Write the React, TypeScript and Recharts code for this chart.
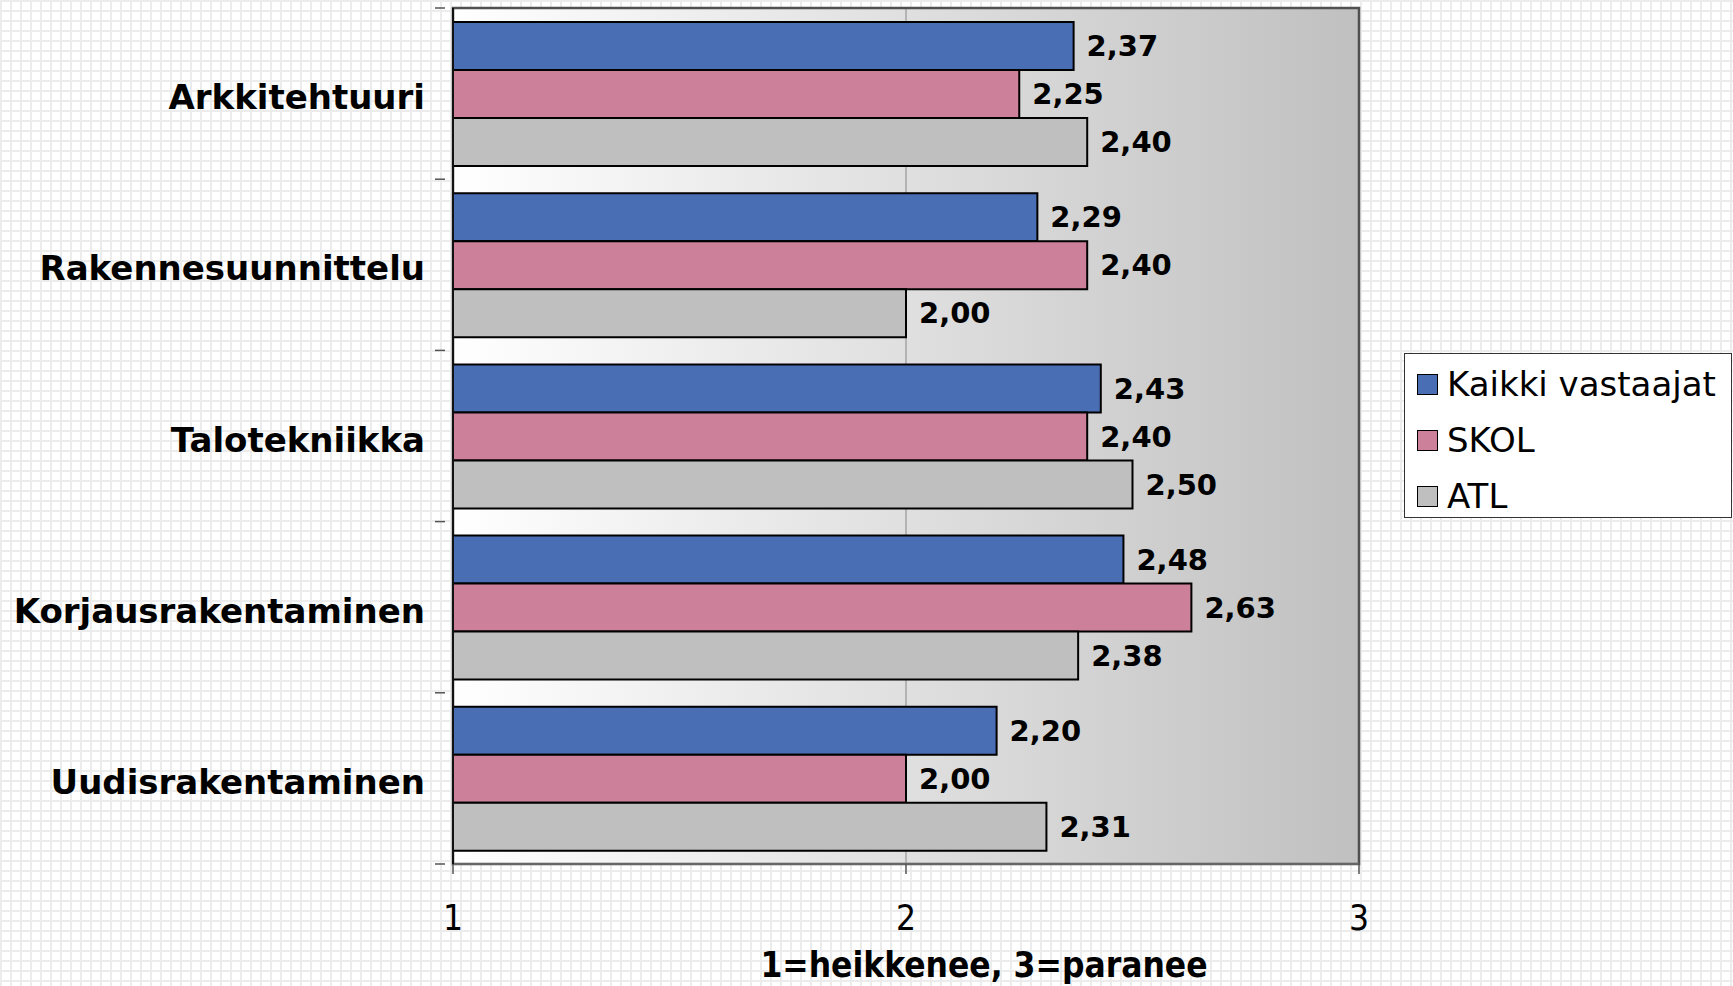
import React from "react";
import {
  Bar,
  BarChart,
  CartesianGrid,
  LabelList,
  ReferenceArea,
  XAxis,
  YAxis,
} from "recharts";

const categories = [
  "Arkkitehtuuri",
  "Rakennesuunnittelu",
  "Talotekniikka",
  "Korjausrakentaminen",
  "Uudisrakentaminen",
];
const kaikki = [2.37, 2.29, 2.43, 2.48, 2.2];
const skol = [2.25, 2.4, 2.4, 2.63, 2.0];
const atl = [2.4, 2.0, 2.5, 2.38, 2.31];
const xTicks = [1, 2, 3];

const series = [
  { key: "kaikki", name: "Kaikki vastaajat", color: "#4a6eb4" },
  { key: "skol", name: "SKOL", color: "#cc8099" },
  { key: "atl", name: "ATL", color: "#bfbfbf" },
];

const data = categories.map((c, i) => ({
  name: c,
  kaikki: kaikki[i],
  skol: skol[i],
  atl: atl[i],
}));

const W = 1733;
const H = 986;
const MARGIN = { top: 8, right: 374, bottom: 0, left: 0 };
const Y_W = 453;
const X_H = 122;
const FONT = "'DejaVu Sans', Verdana, sans-serif";
const COND = "'DejaVu Sans Condensed', 'DejaVu Sans', sans-serif";

const fmt = (v: number) => v.toFixed(2).replace(".", ",");

function CategoryTick(props: any) {
  const { x, y, payload, index } = props;
  const fallback = (H - MARGIN.top - X_H) / categories.length / 2;
  const half = payload.offset || fallback;
  return (
    <g>
      <line x1={x - 10} x2={x} y1={y - half} y2={y - half} stroke="#555" strokeWidth={1.5} />
      {index === categories.length - 1 && (
        <line x1={x - 10} x2={x} y1={y + half} y2={y + half} stroke="#555" strokeWidth={1.5} />
      )}
      <text
        x={x - 20}
        y={y}
        dy="0.46em"
        textAnchor="end"
        fontFamily={FONT}
        fontWeight="bold"
        fontSize={34}
        fill="#000"
      >
        {payload.value}
      </text>
    </g>
  );
}

function LegendBox() {
  return (
    <div
      style={{
        position: "absolute",
        left: 1404,
        top: 353,
        width: 328,
        height: 165,
        boxSizing: "border-box",
        border: "1.5px solid #333",
        background: "#fff",
        paddingTop: 2,
        paddingLeft: 12,
        fontFamily: FONT,
        fontSize: 34,
        color: "#000",
        whiteSpace: "nowrap",
      }}
    >
      {series.map((s) => (
        <div key={s.key} style={{ height: 56, display: "flex", alignItems: "center" }}>
          <span
            style={{
              width: 21,
              height: 21,
              flex: "none",
              boxSizing: "border-box",
              border: "1.5px solid #000",
              background: s.color,
              marginRight: 9,
              display: "inline-block",
            }}
          />
          <span style={{ lineHeight: 1 }}>{s.name}</span>
        </div>
      ))}
    </div>
  );
}

export default function App() {
  return (
    <div
      style={{
        position: "absolute",
        left: 0,
        top: 0,
        width: W,
        height: H,
        backgroundColor: "#fff",
        backgroundImage:
          "linear-gradient(#ececec 2px, transparent 2px), linear-gradient(90deg, #ececec 2px, transparent 2px)",
        backgroundSize: "10px 10px",
      }}
    >
      <BarChart
        width={W}
        height={H}
        data={data}
        layout="vertical"
        margin={MARGIN}
        barCategoryGap={14}
        barGap={0}
      >
        <defs>
          <linearGradient id="plotBg" x1="0" y1="0" x2="1" y2="0">
            <stop offset="0%" stopColor="#ffffff" />
            <stop offset="100%" stopColor="#c0c0c0" />
          </linearGradient>
        </defs>
        <CartesianGrid
          horizontal={false}
          vertical={true}
          stroke="#888"
          strokeWidth={1}
          fill="url(#plotBg)"
          fillOpacity={1}
        />
        <ReferenceArea
          x1={1}
          x2={3}
          fill="none"
          stroke="#505050"
          strokeWidth={2.5}
        />
        <XAxis
          type="number"
          domain={[1, 3]}
          ticks={xTicks}
          height={X_H}
          axisLine={{ stroke: "#666", strokeWidth: 2 }}
          tickLine={{ stroke: "#555", strokeWidth: 1.5 }}
          tickSize={10}
          tickMargin={31}
          tick={{ fontSize: 35, fill: "#000", fontFamily: COND, fontStretch: "condensed" } as any}
          label={{
            content: () => (
              <text
                x={984}
                y={977}
                textAnchor="middle"
                fontFamily={COND}
                fontStretch="condensed"
                fontWeight="bold"
                fontSize={35}
                fill="#000"
              >
                1=heikkenee, 3=paranee
              </text>
            ),
          }}
        />
        <YAxis
          type="category"
          dataKey="name"
          width={Y_W}
          axisLine={{ stroke: "#111", strokeWidth: 2 }}
          tickLine={false}
          tick={<CategoryTick />}
          interval={0}
        />
        {series.map((s) => (
          <Bar
            key={s.key}
            dataKey={s.key}
            name={s.name}
            fill={s.color}
            stroke="#000"
            strokeWidth={2}
            isAnimationActive={false}
          >
            <LabelList
              dataKey={s.key}
              position="right"
              offset={13}
              formatter={(v: any) => fmt(Number(v))}
              style={{ fontFamily: FONT, fontWeight: "bold", fontSize: 29, fill: "#000" }}
            />
          </Bar>
        ))}
      </BarChart>
      <LegendBox />
    </div>
  );
}
